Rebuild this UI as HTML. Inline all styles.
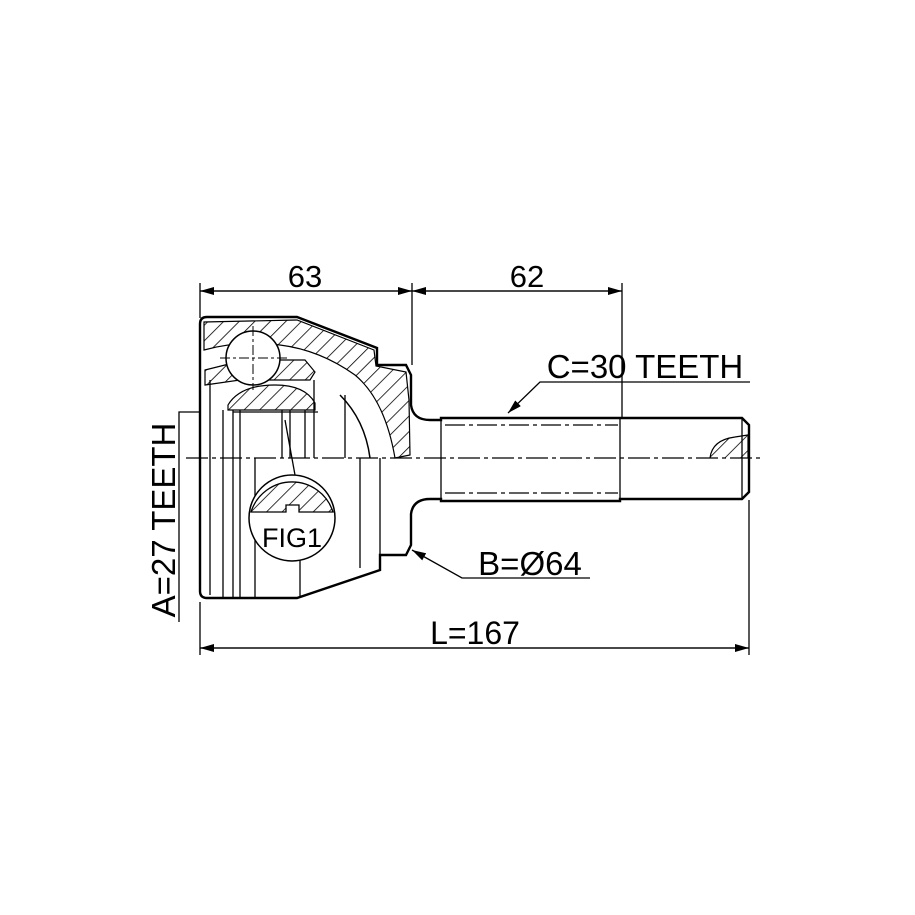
<!DOCTYPE html>
<html><head><meta charset="utf-8"><style>html,body{margin:0;padding:0;background:#fff}svg{display:block}</style></head><body>
<svg width="915" height="915" viewBox="0 0 915 915" xmlns="http://www.w3.org/2000/svg">
<defs>
<pattern id="h" patternUnits="userSpaceOnUse" width="11" height="11" patternTransform="rotate(45)"><line x1="0" y1="0" x2="0" y2="11" stroke="#000" stroke-width="1.6"/></pattern>
<marker id="a" markerWidth="14" markerHeight="8" refX="14" refY="4" orient="auto" markerUnits="userSpaceOnUse"><path d="M0,0 L14,4 L0,8 Z" fill="#000"/></marker>
</defs>
<g fill="none" stroke="#000" font-family="Liberation Sans, sans-serif">
<g stroke-width="1.3">
<line x1="200" y1="283" x2="200" y2="318"/>
<line x1="412" y1="283" x2="412" y2="365"/>
<line x1="622" y1="283" x2="622" y2="418"/>
<line x1="412" y1="291" x2="200" y2="291" marker-end="url(#a)"/>
<line x1="200" y1="291" x2="412" y2="291" marker-end="url(#a)"/>
<line x1="412" y1="291" x2="622" y2="291" marker-end="url(#a)"/>
<line x1="622" y1="291" x2="412" y2="291" marker-end="url(#a)"/>
<line x1="200" y1="602" x2="200" y2="655"/>
<line x1="749" y1="500" x2="749" y2="655"/>
<line x1="200" y1="648" x2="749" y2="648" marker-end="url(#a)"/>
<line x1="749" y1="648" x2="200" y2="648" marker-end="url(#a)"/>
<polyline points="750,382 540,382 508,413" marker-end="url(#a)"/>
<polyline points="590,578 462,578 412,550" marker-end="url(#a)"/>
<polyline points="179,622 179,412 233,412" marker-end="url(#a)"/>
</g>
<path d="M207,317 L297,317 L377,348 L377,365 L406,365 L411,375 L411,405 Q413,420 430,420 L441,420 L441,418 L620,418 L742,418 L749,425 L749,492 L742,499 L620,499 L620,501 L441,501 L441,499 L430,499 Q413,499 411,514 L411,545 L406,555 L380,555 L380,570 L297,598 L207,598 Q200,598 200,591 L200,324 Q200,317 207,317 Z" stroke-width="2.4" fill="#fff"/>
<line x1="233" y1="412" x2="318" y2="412" stroke-width="1.3"/>
<line x1="186" y1="458" x2="760" y2="458" stroke-width="1.2" stroke-dasharray="22,4,4,4"/>
<path d="M204,322 L297,320 L374,350 L376,366 L406,372 L409,400 L410,455 L395,458 Q385,400 355,375 Q320,350 280,345 Q240,340 204,350 Z" fill="url(#h)" stroke-width="1.2"/>
<path d="M228,405 Q240,385 275,385 Q305,385 315,403 L315,410 L228,410 Z" fill="url(#h)" stroke-width="1.2"/>
<path d="M205,370 L245,360 L305,360 L315,372 L310,380 L240,380 L205,385 Z" fill="url(#h)" stroke-width="1.2"/>
<path d="M340,395 Q365,420 370,458" stroke-width="1.5"/>
<circle cx="253" cy="358" r="27" fill="#fff" stroke-width="1.5"/>
<line x1="253" y1="326" x2="253" y2="390" stroke-width="1" stroke-dasharray="10,3,3,3"/>
<line x1="220" y1="358" x2="290" y2="358" stroke-width="1" stroke-dasharray="10,3,3,3"/>
<g stroke-width="1.3">
<line x1="210" y1="380" x2="210" y2="595"/>
<line x1="223" y1="410" x2="223" y2="598"/>
<line x1="233" y1="410" x2="233" y2="598"/>
<line x1="240" y1="410" x2="240" y2="598"/>
<line x1="255" y1="458" x2="255" y2="598"/>
<line x1="282" y1="410" x2="282" y2="458"/>
<line x1="290" y1="410" x2="290" y2="458"/>
<line x1="305" y1="410" x2="305" y2="458"/>
<line x1="314" y1="380" x2="314" y2="458"/>
<line x1="345" y1="395" x2="345" y2="458"/>
<line x1="360" y1="458" x2="360" y2="568"/>
<line x1="380" y1="458" x2="380" y2="555"/>
<line x1="300" y1="560" x2="300" y2="598"/>
<line x1="285" y1="420" x2="295" y2="475"/>
<line x1="441" y1="418" x2="441" y2="501"/>
<line x1="620" y1="418" x2="620" y2="501"/>
<line x1="742" y1="418" x2="742" y2="499"/>
<line x1="445" y1="425" x2="618" y2="425" stroke-dasharray="20,4,4,4"/>
<line x1="445" y1="493" x2="618" y2="493" stroke-dasharray="20,4,4,4"/>
</g>
<path d="M710,458 Q712,440 735,437 L748,435 L748,458" fill="url(#h)" stroke-width="1.2"/>
<circle cx="292" cy="518" r="43" fill="#fff" stroke-width="1.5"/>
<path d="M251,512 A43,43 0 0 1 333,512 L299,512 L299,505 L286,505 L286,512 Z" fill="url(#h)" stroke-width="1.3"/>
</g>
<g font-family="Liberation Sans, sans-serif" fill="#000">
<text x="305" y="287" font-size="31" text-anchor="middle">63</text>
<text x="527" y="287" font-size="31" text-anchor="middle">62</text>
<text x="645" y="378" font-size="33" text-anchor="middle">C=30 TEETH</text>
<text x="530" y="575" font-size="33" text-anchor="middle">B=Ø64</text>
<text x="475" y="644" font-size="32" text-anchor="middle">L=167</text>
<text x="292" y="547" font-size="27" text-anchor="middle">FIG1</text>
<text transform="translate(175,520) rotate(-90)" font-size="33" text-anchor="middle">A=27 TEETH</text>
</g>
</svg>
</body></html>
